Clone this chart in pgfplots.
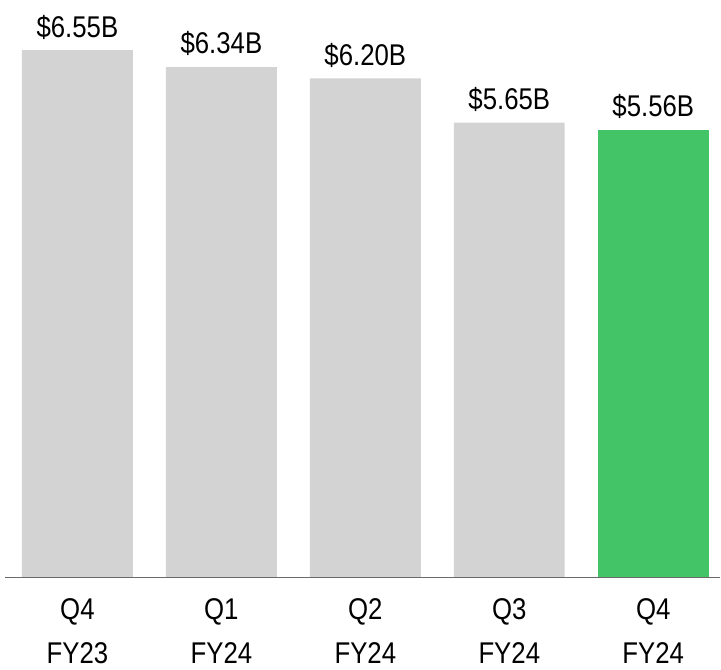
\documentclass[border=0pt]{standalone}
\usepackage{pgfplots}
\pgfplotsset{compat=1.18}
\usepackage{fontspec}
\setmainfont{Liberation Sans}[FakeStretch=0.86]
\definecolor{barGray}{HTML}{D3D3D3}
\definecolor{barGreen}{HTML}{43C466}
\definecolor{axGray}{HTML}{6A6A6A}
\begin{document}
\begin{tikzpicture}
\begin{axis}[
  scale only axis,
  width=358pt, height=282pt,
  xmin=-0.503, xmax=4.465,
  ymin=0, ymax=7,
  axis lines=none,
  xtick=\empty, ytick=\empty,
  clip=false,
  bar width=55.5pt,
  ybar, bar shift=0pt,
  /pgf/number format/assume math mode=true,
  nodes near coords style={font=\fontsize{15}{18}\selectfont, anchor=south, yshift=2pt, text=black},
]
\addplot[fill=barGray, draw=none, nodes near coords={\$\pgfmathprintnumber[fixed,fixed zerofill,precision=2,assume math mode=true]{\pgfplotspointmeta}B}]
  coordinates {(0,6.55) (1,6.34) (2,6.20) (3,5.65)};
\addplot[fill=barGreen, draw=none, nodes near coords={\$\pgfmathprintnumber[fixed,fixed zerofill,precision=2,assume math mode=true]{\pgfplotspointmeta}B}]
  coordinates {(4,5.56)};
\draw[axGray, line width=0.8pt] (axis cs:-0.503,0) -- (axis cs:4.465,0);
\node[anchor=north, align=center, font=\fontsize{15}{22}\selectfont, inner sep=0pt, yshift=-10.5pt] at (axis cs:0,0) {Q4\\FY23};
\node[anchor=north, align=center, font=\fontsize{15}{22}\selectfont, inner sep=0pt, yshift=-10.5pt] at (axis cs:1,0) {Q1\\FY24};
\node[anchor=north, align=center, font=\fontsize{15}{22}\selectfont, inner sep=0pt, yshift=-10.5pt] at (axis cs:2,0) {Q2\\FY24};
\node[anchor=north, align=center, font=\fontsize{15}{22}\selectfont, inner sep=0pt, yshift=-10.5pt] at (axis cs:3,0) {Q3\\FY24};
\node[anchor=north, align=center, font=\fontsize{15}{22}\selectfont, inner sep=0pt, yshift=-10.5pt] at (axis cs:4,0) {Q4\\FY24};
\end{axis}
\useasboundingbox (current axis.south west) ++(-2.5pt,-46pt) rectangle ([yshift=7pt]current axis.north east);
\end{tikzpicture}
\end{document}
